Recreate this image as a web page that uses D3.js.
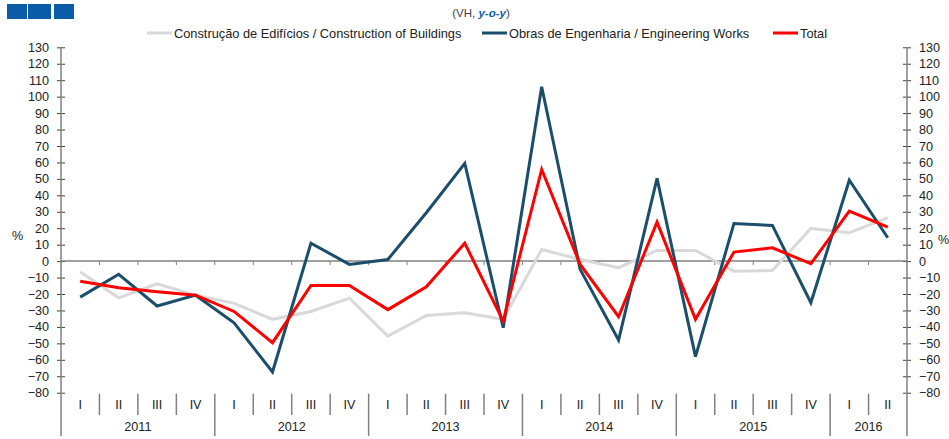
<!DOCTYPE html>
<html>
<head>
<meta charset="utf-8">
<script src="https://cdn.jsdelivr.net/npm/d3@7"></script>
<style>
  body { margin: 0; background: #fff; }
  text { font-family: "Liberation Sans", Arial, sans-serif; }
</style>
</head>
<body>
<div id="chart"></div>
<script>
const years = ['2011', '2012', '2013', '2014', '2015', '2016'];
const quarters = ['I', 'II', 'III', 'IV'];
const quarterCount = 22;

// y-o-y change, %
const buildings = [-6.5, -22.3, -13.8, -20.7, -25.7, -35.4, -30.6, -22.5, -45.6, -33, -31.4, -35.4,
  7.1, 1, -4, 6.5, 6.5, -6.1, -5.7, 19.9, 17.2, 26.4];
const engineering = [-21.9, -8, -27.3, -20.7, -37.5, -67.4, 10.9, -2, 1, 29.4, 59.4, -40.5,
  106, -5, -48, 50.3, -58.1, 22.9, 21.7, -25.3, 49.2, 14.2];
const total = [-12.3, -16.2, -18.6, -20.7, -30.6, -49.6, -14.8, -14.8, -29.5, -15.6, 10.9, -36.5,
  55.7, -2, -33.8, 23.7, -35.4, 5.5, 8.1, -1.6, 30.4, 20.7];

const yTicks = d3.range(-80, 131, 10);

const width = 949;
const height = 439;
const margin = { left: 61, right: 42, top: 47.3, bottom: 46.3 };
const fontSize = '12.6px';

const svg = d3.select('#chart')
  .append('svg')
  .attr('width', width)
  .attr('height', height);

const idx = d3.range(quarterCount);
const xScale = d3.scaleBand()
  .domain(idx)
  .range([margin.left, width - margin.right])
  .padding(0);

const yScale = d3.scaleLinear()
  .domain([-80, 130])
  .range([height - margin.bottom, margin.top]);

const axisColor = '#808080';
const x0 = margin.left;
const x1 = width - margin.right;
const yBottom = yScale(-80);

// logo blocks
[[7, 20], [28, 23], [54, 20]].forEach(([x, w]) => {
  svg.append('rect').attr('x', x).attr('y', 4).attr('width', w).attr('height', 15).attr('fill', '#0b5ca8');
});

// subtitle
const sub = svg.append('text')
  .attr('x', 481).attr('y', 17)
  .attr('text-anchor', 'middle')
  .style('font-size', '11.5px')
  .style('fill', '#404040');
sub.append('tspan').text('(VH, ');
sub.append('tspan').text('y-o-y').style('font-weight', 'bold').style('font-style', 'italic').style('fill', '#0b5ca8');
sub.append('tspan').text(')');

// legend
const legend = [
  { label: 'Construção de Edifícios / Construction of Buildings', color: '#d9d9d9', x: 147 },
  { label: 'Obras de Engenharia / Engineering Works', color: '#1a4e6b', x: 482 },
  { label: 'Total', color: '#ff0000', x: 773 }
];
legend.forEach(l => {
  svg.append('line')
    .attr('x1', l.x).attr('x2', l.x + 25)
    .attr('y1', 33).attr('y2', 33)
    .attr('stroke', l.color).attr('stroke-width', 3);
  svg.append('text')
    .attr('x', l.x + 27).attr('y', 37.5)
    .text(l.label)
    .style('font-size', '12.8px')
    .style('fill', '#222');
});

// left and right axes
const styleTicks = g => {
  g.select('.domain').remove();
  g.selectAll('.tick line').attr('x2', 4).attr('x1', -4).attr('stroke', '#404040');
  g.selectAll('.tick text')
    .style('font-size', fontSize)
    .style('fill', '#222')
    .style('font-family', '"Liberation Sans", Arial, sans-serif');
};

svg.append('g')
  .attr('transform', `translate(${x0},0)`)
  .call(d3.axisLeft(yScale).tickValues(yTicks).tickSize(4).tickPadding(8))
  .call(styleTicks);

svg.append('g')
  .attr('transform', `translate(${x1},0)`)
  .call(d3.axisRight(yScale).tickValues(yTicks).tickSize(4).tickPadding(8))
  .call(styleTicks);

[x0, x1].forEach(x => {
  svg.append('line')
    .attr('x1', x).attr('x2', x)
    .attr('y1', margin.top).attr('y2', 436)
    .attr('stroke', axisColor).attr('stroke-width', 1.5);
});

svg.append('text').attr('x', 12).attr('y', 240).text('%').style('font-size', fontSize).style('fill', '#222');
svg.append('text').attr('x', 938).attr('y', 244).text('%').style('font-size', fontSize).style('fill', '#222');

// zero line with small ticks at quarter boundaries
svg.append('line')
  .attr('x1', x0).attr('x2', x1)
  .attr('y1', yScale(0)).attr('y2', yScale(0))
  .attr('stroke', axisColor).attr('stroke-width', 1.5);
idx.slice(1).forEach(i => {
  svg.append('line')
    .attr('x1', xScale(i)).attr('x2', xScale(i))
    .attr('y1', yScale(0)).attr('y2', yScale(0) + 4)
    .attr('stroke', axisColor).attr('stroke-width', 1);
});

// category axis: quarters and years
idx.forEach(i => {
  const cx = xScale(i) + xScale.bandwidth() / 2;
  svg.append('text')
    .attr('x', cx).attr('y', 409)
    .attr('text-anchor', 'middle')
    .text(quarters[i % 4])
    .style('font-size', fontSize)
    .style('fill', '#222');
  if (i > 0) {
    const yearStart = i % 4 === 0;
    svg.append('line')
      .attr('x1', xScale(i)).attr('x2', xScale(i))
      .attr('y1', yBottom + 1).attr('y2', yearStart ? 436 : 415)
      .attr('stroke', axisColor).attr('stroke-width', 1.5);
  }
});
years.forEach((yr, j) => {
  const first = j * 4;
  const last = Math.min(first + 3, quarterCount - 1);
  const cx = (xScale(first) + xScale(last) + xScale.bandwidth()) / 2;
  svg.append('text')
    .attr('x', cx).attr('y', 431)
    .attr('text-anchor', 'middle')
    .text(yr)
    .style('font-size', fontSize)
    .style('fill', '#222');
});

// series lines
const line = d3.line()
  .x((d, i) => xScale(i) + xScale.bandwidth() / 2)
  .y(d => yScale(d));

[[buildings, '#d9d9d9'], [engineering, '#1a4e6b'], [total, '#ff0000']].forEach(([data, color]) => {
  svg.append('path')
    .datum(data)
    .attr('d', line)
    .attr('fill', 'none')
    .attr('stroke', color)
    .attr('stroke-width', 3)
    .attr('stroke-linejoin', 'miter');
});
</script>
</body>
</html>
